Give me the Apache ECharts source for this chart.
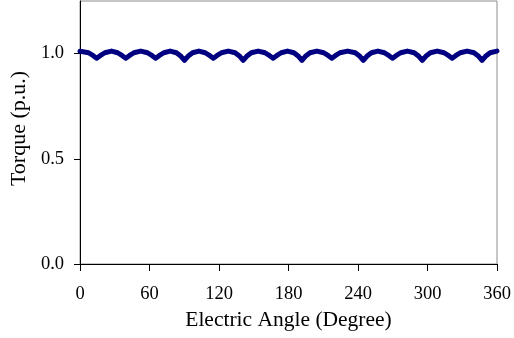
<!DOCTYPE html>
<html>
<head>
<meta charset="utf-8">
<style>html,body{margin:0;padding:0;background:#fff;}#c{width:514px;height:338px;}</style>
<script src="https://cdn.jsdelivr.net/npm/echarts@6/dist/echarts.min.js"></script>
</head>
<body>
<div id="c"></div>
<script>
// Electric angle (degrees)
var angles = [
  0, 1.5, 7.4, 11.4,
  14.4, 17.4, 21.4, 27.2, 32.5, 36.5,
  39.5, 42.5, 46.5, 52.4, 58.3, 62.3,
  65.3, 68.3, 72.3, 77.8, 83.2, 87.2,
  90.2, 93.2, 97.2, 102.6, 108.1, 112.1,
  115.1, 118.1, 122.1, 128.0, 133.9, 137.9,
  140.9, 143.9, 147.9, 153.8, 159.7, 163.7,
  166.7, 169.7, 173.7, 179.1, 184.6, 188.6,
  191.6, 194.6, 198.6, 204.5, 210.4, 214.4,
  217.4, 220.4, 224.4, 231.0, 237.6, 241.6,
  244.6, 247.6, 251.6, 257.2, 262.8, 266.8,
  269.8, 272.8, 276.8, 282.6, 288.5, 292.5,
  295.5, 298.5, 302.5, 308.4, 314.3, 318.3,
  321.3, 324.3, 328.3, 334.2, 340.1, 344.1,
  347.1, 350.1, 354.1, 360
];
// Torque (p.u.)
var torque = [
  1.011, 1.012, 1.004, 0.990,
  0.978, 0.990, 1.004, 1.012, 1.004, 0.990,
  0.978, 0.990, 1.004, 1.012, 1.004, 0.990,
  0.978, 0.990, 1.004, 1.012, 1.004, 0.987,
  0.968, 0.987, 1.004, 1.012, 1.004, 0.990,
  0.978, 0.990, 1.004, 1.012, 1.004, 0.987,
  0.968, 0.987, 1.004, 1.012, 1.004, 0.990,
  0.978, 0.990, 1.004, 1.012, 1.004, 0.987,
  0.968, 0.987, 1.004, 1.012, 1.004, 0.990,
  0.978, 0.990, 1.004, 1.012, 1.004, 0.987,
  0.968, 0.987, 1.004, 1.012, 1.004, 0.990,
  0.978, 0.990, 1.004, 1.012, 1.004, 0.987,
  0.968, 0.987, 1.004, 1.012, 1.004, 0.990,
  0.978, 0.990, 1.004, 1.012, 1.004, 0.987,
  0.968, 0.987, 1.004, 1.012
];
var xTicks = [0, 60, 120, 180, 240, 300, 360];
var yTicks = [0, 0.5, 1.0];
var xName = 'Electric Angle (Degree)';
var yName = 'Torque (p.u.)';

var pts = angles.map(function (a, i) { return [a, torque[i]]; });
var font = 'Liberation Serif';
var chart = echarts.init(document.getElementById('c'), null, {renderer: 'canvas'});
chart.setOption({
  animation: false,
  backgroundColor: '#fff',
  grid: {left: 78, right: 17, top: 1, bottom: 74, show: true, borderColor: '#8c8c8c', borderWidth: 1},
  xAxis: {
    type: 'value', min: 0, max: 360, interval: 60,
    name: xName, nameLocation: 'middle', nameGap: 35,
    nameTextStyle: {fontFamily: font, fontSize: 21.5, color: '#000'},
    axisLine: {show: true, onZero: false, lineStyle: {color: '#000', width: 1}},
    axisTick: {show: true, length: 7, inside: false, customValues: xTicks, lineStyle: {color: '#000'}},
    axisLabel: {customValues: xTicks, margin: 21, fontFamily: font, fontSize: 18.5, color: '#000'},
    splitLine: {show: false}
  },
  yAxis: {
    type: 'value', min: 0, max: 1.25, interval: 0.5,
    name: yName, nameLocation: 'middle', nameGap: 50, nameRotate: 90,
    nameTextStyle: {fontFamily: font, fontSize: 22, color: '#000', padding: [0, 0, 0, 8]},
    axisLine: {show: true, onZero: false, lineStyle: {color: '#000', width: 1}},
    axisTick: {show: true, length: 6, inside: false, customValues: yTicks, lineStyle: {color: '#000'}},
    axisLabel: {customValues: yTicks, margin: 16, fontFamily: font, fontSize: 18.5, color: '#000',
      formatter: function (v) { return v.toFixed(1); }},
    splitLine: {show: false}
  },
  series: [{
    type: 'line', data: pts, showSymbol: false, smooth: false,
    lineStyle: {color: '#000080', width: 5, join: 'round', cap: 'round'},
    clip: false
  }]
});
</script>
</body>
</html>
